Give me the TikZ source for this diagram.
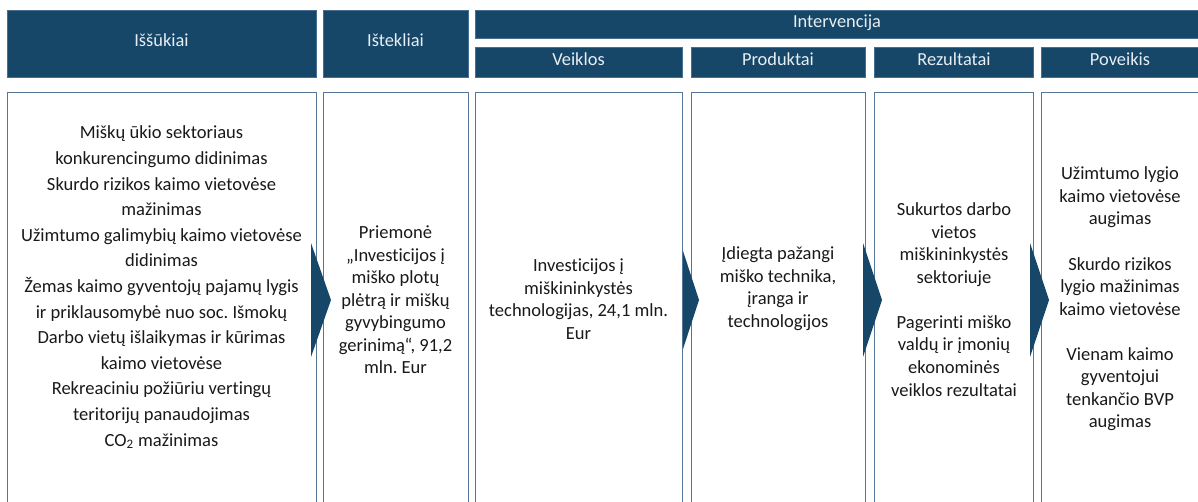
\documentclass[tikz,border=0pt]{standalone}
\usepackage{fontspec}
\setmainfont{Carlito}[Ligatures=NoCommon]
\usepackage{tikz}
\usetikzlibrary{positioning}
\frenchspacing
\definecolor{hdrblue}{RGB}{22,70,104}
\definecolor{hdrline}{RGB}{70,110,145}
\definecolor{boxline}{RGB}{85,118,150}
\definecolor{hdrtxt}{RGB}{232,238,243}
\definecolor{bodytxt}{RGB}{25,25,25}

\begin{document}
\begin{tikzpicture}[x = 0.75pt, y = -0.75pt,
        hdr/.style={fill=hdrblue, draw=hdrline, line width=0.6pt},
        body/.style={draw=boxline, line width=0.7pt},
        chevron/.style={fill=hdrblue},
        hdrtext/.style={text=hdrtxt, inner sep=0pt, text height=0.7em, text depth=0.2em, font=\fontsize{13.8}{16}\selectfont},
        celltext/.style={text=bodytxt, inner sep=0pt, align=center, font=\fontsize{13.9}{16.9}\selectfont},
        bigcell/.style={celltext, font=\fontsize{13.9}{19.2}\selectfont}]
        \useasboundingbox (0,0) rectangle (1198,502);
        \clip (0,0) rectangle (1198,502);
        \draw [hdr] (7,10) rectangle (316,77);
        \draw [hdr] (323,10) rectangle (468,77);
        \draw [hdr] (475,10) rectangle (1210,38);
        \draw [hdr] (475,47) rectangle (682,77);
        \draw [hdr] (691,47) rectangle (865,77);
        \draw [hdr] (874,47) rectangle (1033,77);
        \draw [hdr] (1041.5,47) rectangle (1210,77);
        \node (hiss) at (161.5,43.5) [hdrtext] {Iššūkiai};
        \node (hist) at (395.5,43.5) [hdrtext] {Ištekliai};
        \node (hint) at (837,24) [hdrtext] {Intervencija};
        \node (hvei) at (578.5,62.5) [hdrtext] {Veiklos};
        \node (hpro) at (778,62.5) [hdrtext] {Produktai};
        \node (hrez) at (954,62.5) [hdrtext] {Rezultatai};
        \node (hpov) at (1120,62.5) [hdrtext] {Poveikis};
        \draw [body] (7,92) rectangle (316,520);
        \draw [body] (323,92) rectangle (468,520);
        \draw [body] (475,92) rectangle (682,520);
        \draw [body] (691,92) rectangle (865,520);
        \draw [body] (874,92) rectangle (1033,520);
        \draw [body] (1041.5,92) rectangle (1210,520);
        \fill [chevron] (311,243) -- (331,300) -- (311,357) -- cycle;
        \fill [chevron] (683,251) -- (699,300) -- (683,349) -- cycle;
        \fill [chevron] (863,243) -- (882,300) -- (863,357) -- cycle;
        \fill [chevron] (1030,243) -- (1049,300) -- (1030,357) -- cycle;
        \node (tiss) at (161.5,287.5) [bigcell] {Miškų ūkio sektoriaus\\konkurencingumo didinimas\\Skurdo rizikos kaimo vietovėse\\mažinimas\\Užimtumo galimybių kaimo vietovėse\\didinimas\\Žemas kaimo gyventojų pajamų lygis\\ir priklausomybė nuo soc. Išmokų\\Darbo vietų išlaikymas ir kūrimas\\kaimo vietovėse\\Rekreaciniu požiūriu vertingų\\teritorijų panaudojimas\\CO\textsubscript{2} mažinimas};
        \node (tist) at (395.5,300) [celltext] {Priemonė\\„Investicijos į\\miško plotų\\plėtrą ir miškų\\gyvybingumo\\gerinimą“, 91,2\\mln. Eur};
        \node (tvei) at (578.5,299) [celltext] {Investicijos į\\miškininkystės\\technologijas, 24,1 mln.\\Eur};
        \node (tpro) at (778,288.5) [celltext] {Įdiegta pažangi\\miško technika,\\įranga ir\\technologijos};
        \node (trez) at (954,299.5) [celltext] {Sukurtos darbo\\vietos\\miškininkystės\\sektoriuje\\[16.9pt]Pagerinti miško\\valdų ir įmonių\\ekonominės\\veiklos rezultatai};
        \node (tpov) at (1120,299) [celltext] {Užimtumo lygio\\kaimo vietovėse\\augimas\\[16.9pt]Skurdo rizikos\\lygio mažinimas\\kaimo vietovėse\\[16.9pt]Vienam kaimo\\gyventojui\\tenkančio BVP\\augimas};
    \end{tikzpicture}
\end{document}
